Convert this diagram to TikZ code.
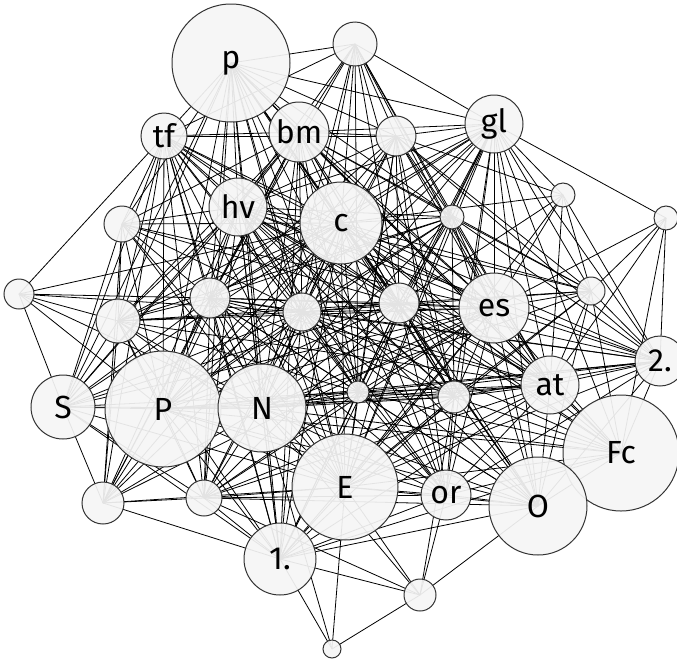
\documentclass[tikz,border=0pt]{standalone}
\usepackage{fontspec}
\setmainfont{Fira Sans}
\usetikzlibrary{backgrounds}
\begin{document}
\begin{tikzpicture}[x=1pt,y=-1pt,
  vtx/.style={circle,draw=black!80,line width=1pt,fill=black!4,fill opacity=0.93,text opacity=1,inner sep=0pt,font=\fontsize{32}{32}\selectfont},
  lnk/.style={line width=0.8pt,black}]
\useasboundingbox (0,0) rectangle (677,659);
% nodes
\node[vtx,minimum size=118pt] (p)  at (231,63)  {p};
\node[vtx,minimum size=44pt]  (t0) at (355,44)  {};
\node[vtx,minimum size=46pt]  (tf) at (164,136) {tf};
\node[vtx,minimum size=60pt]  (bm) at (299,132) {bm};
\node[vtx,minimum size=40pt]  (a5) at (396,136) {};
\node[vtx,minimum size=58pt]  (gl) at (494,124) {gl};
\node[vtx,minimum size=58pt]  (hv) at (238,207) {hv};
\node[vtx,minimum size=82pt]  (c)  at (341,223) {c};
\node[vtx,minimum size=24pt]  (a9) at (452,217) {};
\node[vtx,minimum size=24pt]  (a10) at (563,195) {};
\node[vtx,minimum size=24pt]  (a11) at (666,218) {};
\node[vtx,minimum size=36pt]  (a12) at (122,224) {};
\node[vtx,minimum size=30pt]  (a13) at (19,294) {};
\node[vtx,minimum size=44pt]  (a14) at (118,321) {};
\node[vtx,minimum size=40pt]  (a15) at (210,298) {};
\node[vtx,minimum size=38pt]  (a16) at (302,312) {};
\node[vtx,minimum size=40pt]  (a17) at (399,303) {};
\node[vtx,minimum size=70pt]  (es) at (494,308) {es};
\node[vtx,minimum size=28pt]  (a19) at (591,291) {};
\node[vtx,minimum size=50pt]  (two) at (660,361) {2.};
\node[vtx,minimum size=64pt]  (S)  at (63,407)  {S};
\node[vtx,minimum size=116pt] (P)  at (163,409) {P};
\node[vtx,minimum size=88pt]  (N)  at (262,408) {N};
\node[vtx,minimum size=22pt]  (a24) at (358,392) {};
\node[vtx,minimum size=32pt]  (a25) at (454,397) {};
\node[vtx,minimum size=58pt]  (at) at (550,385) {at};
\node[vtx,minimum size=116pt] (Fc) at (621,453) {Fc};
\node[vtx,minimum size=42pt]  (a28) at (103,503) {};
\node[vtx,minimum size=36pt]  (a29) at (204,498) {};
\node[vtx,minimum size=106pt] (E)  at (345,487) {E};
\node[vtx,minimum size=50pt]  (or) at (446,495) {or};
\node[vtx,minimum size=98pt]  (O)  at (538,506) {O};
\node[vtx,minimum size=72pt]  (one) at (280,559) {1.};
\node[vtx,minimum size=32pt]  (a34) at (420,595) {};
\node[vtx,minimum size=18pt]  (a35) at (332,649) {};
% edges
\begin{pgfonlayer}{background}
\foreach \s/\ts in {
 p/{t0,bm,tf,hv,c,a5,gl,a9,a12,a14,a15,a16,a17,es,N,P,E,a24,a25,at,or,O,one,a29,S,Fc},
 t0/{a5,c,bm,hv,a9,es,a17,a24,a16,a15,at,N,a25,tf,gl},
 tf/{bm,hv,c,a12,a13,a14,a15,a16,S,P,N,E,a17,a24,a25,es,at,one,a28,a29,a5},
 bm/{a5,hv,c,gl,a9,a12,a14,a15,a16,a17,es,P,N,S,a24,a25,E,one,at,a19,O,a28},
 a5/{gl,c,hv,a9,a10,es,a17,a16,a15,N,P,a24,a25,at,E,a19,two,or},
 gl/{c,a9,a10,a11,hv,es,a17,a16,a19,two,at,a25,O,Fc,E,N,P,a24,or,a15,one,a14},
 hv/{c,a12,a14,a15,a16,a17,a9,es,S,P,N,E,a24,a25,at,a28,a29,one,or,O,a19,two,Fc},
 c/{a9,a10,a12,a13,a14,a15,a16,a17,es,a19,two,S,P,N,a24,a25,at,Fc,a28,a29,E,or,O,one},
 a9/{es,a17,a16,a19,at,two,a25,N,E,P,O,a14,a15},
 a10/{es,a19,at,two,a17,E},
 a11/{a19,two,at,Fc,es},
 a12/{a14,a15,a16,S,P,N,a28,E,a17,es},
 a13/{a14,a15,S,P,N,a16},
 a14/{a15,a16,a17,S,P,N,a24,a28,a29,E,es,at,one},
 a15/{a16,a17,es,S,P,N,a24,a25,a28,a29,E,one,at,or,O,two},
 a16/{a17,es,a19,S,P,N,a24,a25,at,E,or,O,one,a28,a29,Fc,two},
 a17/{es,a19,two,P,N,a24,a25,at,Fc,E,or,O,one,a29,S},
 es/{a19,two,P,N,a24,a25,at,Fc,E,or,O,one,a29,a28,S},
 a19/{two,at,Fc,N,a25,E,O},
 two/{at,Fc,N,a25,a24,E,O,or,P},
 S/{P,a28,a29,N,E,a24,one},
 P/{N,a24,a25,at,a28,a29,E,or,O,one,Fc},
 N/{a24,a25,at,Fc,a28,a29,E,or,O,one,a34,a35},
 a24/{a25,at,Fc,E,or,O,one,a29},
 a25/{at,Fc,E,or,O,one,a29,a34},
 at/{Fc,E,or,O,one,a29},
 Fc/{E,or,O,one},
 a28/{a29,E,one},
 a29/{E,or,O,one,a34},
 E/{or,O,one,a34,a35},
 or/{O,a34,one},
 O/{a34,one},
 one/{a34,a35},
 a34/{a35}}
 {\foreach \t in \ts {\draw[lnk] (\s.center) -- (\t.center);}}
\end{pgfonlayer}
\end{tikzpicture}
\end{document}
